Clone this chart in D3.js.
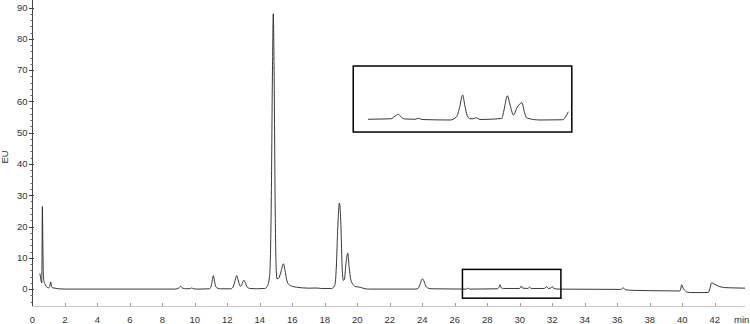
<!DOCTYPE html>
<html>
<head>
<meta charset="utf-8">
<script src="https://cdn.jsdelivr.net/npm/d3@7"></script>
<style>
  html, body { margin: 0; padding: 0; background: #fff; }
  svg { display: block; }
  text { font-family: "Liberation Sans", Arial, sans-serif; }
</style>
</head>
<body>
<div id="chart"></div>
<script>
// chromatogram, EU vs min
const traceTime = [0.47, 0.55, 0.58, 0.6, 0.62, 0.65, 0.68, 0.72, 0.8, 0.9, 1.0, 1.07, 1.13, 1.19, 1.25, 1.4, 1.6, 2.0,
  8.8, 9.0, 9.13, 9.25, 9.5, 9.7, 9.8, 9.9, 10.2,
  10.9, 11.0, 11.08, 11.14, 11.2, 11.28, 11.4, 11.6, 12.2, 12.35, 12.48, 12.58, 12.68, 12.8, 12.88, 12.96, 13.03, 13.1, 13.22, 13.4, 13.8,
  14.3, 14.45, 14.6, 14.7, 14.78, 14.83, 14.88, 14.94, 15.0, 15.06, 15.15, 15.3, 15.45, 15.55, 15.65, 15.8, 16.0, 16.27, 16.6, 17.0, 17.5, 17.8,
  18.4, 18.6, 18.7, 18.8, 18.9, 18.98, 19.06, 19.14, 19.2, 19.3, 19.41, 19.5, 19.6, 19.75, 19.9, 20.17, 20.4, 20.7,
  23.6, 23.75, 23.88, 24.0, 24.1, 24.22, 24.37, 24.6,
  26.7, 26.8, 26.9, 28.6, 28.72, 28.78, 28.86, 29.0, 29.95, 30.05, 30.1, 30.18, 30.5, 30.6, 30.7, 31.5, 31.65, 31.75, 31.9, 32.0, 32.1, 32.4,
  36.2, 36.37, 36.5, 37, 38, 39.85, 39.9, 39.96, 40.05, 40.2, 40.3, 40.5, 41.6, 41.7, 41.8, 41.9, 42.1, 42.3, 42.6, 43, 43.86];
const traceEU = [5.0, 2.5, 2.0, 12, 26.4, 14, 5, 2.4, 1.4, 0.6, 0.4, 0.8, 2.3, 0.8, 0.4, 0.3, 0.1, 0,
  0, 0.3, 0.9, 0.3, 0.1, 0.15, 0.35, 0.15, 0,
  0.1, 0.8, 3, 4.3, 3, 0.9, 0.3, 0.1, 0.1, 0.6, 2.8, 4.3, 2.6, 0.9, 1.2, 2.4, 2.8, 2.2, 0.7, 0.2, 0.1,
  0.2, 0.8, 4, 25, 70, 88, 70, 30, 8, 3.3, 3.4, 5.5, 8.1, 6, 3, 1.4, 0.9, 0.6, 0.4, 0.3, 0.35, 0.2,
  0.2, 1.0, 6, 20, 27.5, 22, 8, 2.8, 3, 8, 11.5, 7, 3, 1.4, 0.8, 0.6, 0.2, 0,
  0, 0.3, 1.8, 3.3, 2.6, 0.9, 0.3, 0.1,
  0, 0.3, 0, 0.1, 0.6, 1.4, 0.4, 0.2, 0.2, 0.5, 1.0, 0.3, 0.2, 0.6, 0.2, 0.2, 0.8, 0.2, 0.3, 0.8, 0.2, 0,
  -0.1, 0.4, -0.2, -0.4, -0.5, -0.6, 0, 1.4, 0.3, -0.6, -1.0, -1.1, -1.1, 0.2, 2.0, 1.8, 1.3, 0.8, 0.5, 0.4, 0.3];

// magnified inset trace (own scale)
const insetTime = [26.6, 27.28, 27.4, 27.5, 27.6, 27.7, 28.0, 28.1, 28.2, 29.04, 29.23, 29.32, 29.41, 29.48, 29.54, 29.63, 29.72, 29.81, 29.93,
  30.57, 30.64, 30.74, 30.82, 30.92, 31.03, 31.17, 31.25, 31.32, 31.71, 32.39, 32.48, 32.55];
const insetValue = [0.3, 0.5, 1.5, 2.3, 1.0, 0.4, 0.3, 0.7, 0.2, 0, 1.3, 5, 10, 5.5, 2, 0.5, 0.5, 0.9, 0.2,
  0.6, 4, 9.7, 6, 2, 5, 6.9, 3, 0.8, 0, 0.1, 1.5, 3.3];

const xTicks = d3.range(0, 43, 2);
const yTicks = d3.range(0, 91, 10);
const yMinorTicks = d3.range(-4, 92, 2);

const width = 750, height = 324;
const svg = d3.select("#chart").append("svg")
  .attr("width", width)
  .attr("height", height);

const x = d3.scaleLinear().domain([0, 44]).range([32.3, 32.3 + 44 * 16.25]);
const y = d3.scaleLinear().domain([-5.4, 92.4]).range([306, 0]);

// x axis (light)
svg.append("line")
  .attr("x1", x(0)).attr("x2", x(43.86))
  .attr("y1", y(-5.4) + 0.5).attr("y2", y(-5.4) + 0.5)
  .attr("stroke", "#c8c8c8").attr("stroke-width", 1);

svg.append("g").selectAll("line")
  .data(xTicks)
  .enter().append("line")
  .attr("x1", d => Math.round(x(d)) + 0.5).attr("x2", d => Math.round(x(d)) + 0.5)
  .attr("y1", y(-5.4) - 3).attr("y2", y(-5.4))
  .attr("stroke", "#999");

svg.append("g").selectAll("text")
  .data(xTicks)
  .enter().append("text")
  .attr("x", d => x(d))
  .attr("y", 323)
  .attr("text-anchor", "middle")
  .style("font-size", "9.5px")
  .style("fill", "#333")
  .text(d => d);

svg.append("text")
  .attr("x", 734)
  .attr("y", 323)
  .style("font-size", "9.5px")
  .style("fill", "#333")
  .text("min");

// y axis
svg.append("line")
  .attr("x1", 32.5).attr("x2", 32.5)
  .attr("y1", 0).attr("y2", y(-5.4))
  .attr("stroke", "#444").attr("stroke-width", 1);

svg.append("g").selectAll("line")
  .data(yMinorTicks.filter(d => d % 10 !== 0))
  .enter().append("line")
  .attr("x1", 30.5).attr("x2", 32.5)
  .attr("y1", d => Math.round(y(d)) + 0.5).attr("y2", d => Math.round(y(d)) + 0.5)
  .attr("stroke", "#666");

svg.append("g").selectAll("line")
  .data(yTicks)
  .enter().append("line")
  .attr("x1", 29).attr("x2", 34)
  .attr("y1", d => Math.round(y(d)) + 0.5).attr("y2", d => Math.round(y(d)) + 0.5)
  .attr("stroke", "#444");

svg.append("g").selectAll("text")
  .data(yTicks)
  .enter().append("text")
  .attr("x", 27.5)
  .attr("y", d => y(d) + 3.3)
  .attr("text-anchor", "end")
  .style("font-size", "9.5px")
  .style("fill", "#333")
  .text(d => d);

svg.append("text")
  .attr("transform", "translate(8,157) rotate(-90)")
  .attr("text-anchor", "middle")
  .style("font-size", "9.5px")
  .style("fill", "#333")
  .text("EU");

// trace
const trace = traceTime.map((t, i) => ({ t: t, v: traceEU[i] }));
const line = d3.line()
  .x(d => x(d.t))
  .y(d => y(d.v))
  .curve(d3.curveMonotoneX);

svg.append("path")
  .datum(trace)
  .attr("fill", "none")
  .attr("stroke", "#222")
  .attr("stroke-width", 0.9)
  .attr("d", line);

// small box around the zoomed region
const zoomBox = { t0: 26.47, t1: 32.53, v0: -2.9, v1: 6.3 };
svg.append("rect")
  .attr("x", x(zoomBox.t0)).attr("y", y(zoomBox.v1))
  .attr("width", x(zoomBox.t1) - x(zoomBox.t0))
  .attr("height", y(zoomBox.v0) - y(zoomBox.v1))
  .attr("fill", "none")
  .attr("stroke", "#000")
  .attr("stroke-width", 1.5);

// inset
const insetBox = { t0: 19.75, t1: 33.2, v0: 50.2, v1: 71.3 };
svg.append("rect")
  .attr("x", x(insetBox.t0)).attr("y", y(insetBox.v1))
  .attr("width", x(insetBox.t1) - x(insetBox.t0))
  .attr("height", y(insetBox.v0) - y(insetBox.v1))
  .attr("fill", "none")
  .attr("stroke", "#000")
  .attr("stroke-width", 1.5);

const xi = d3.scaleLinear().domain([26.6, 32.55]).range([368, 568.3]);
const yi = d3.scaleLinear().domain([0, 10]).range([120, 95]);
const insetLine = d3.line()
  .x(d => xi(d.t))
  .y(d => yi(d.v))
  .curve(d3.curveMonotoneX);

svg.append("path")
  .datum(insetTime.map((t, i) => ({ t: t, v: insetValue[i] })))
  .attr("fill", "none")
  .attr("stroke", "#222")
  .attr("stroke-width", 0.9)
  .attr("d", insetLine);
</script>
</body>
</html>
